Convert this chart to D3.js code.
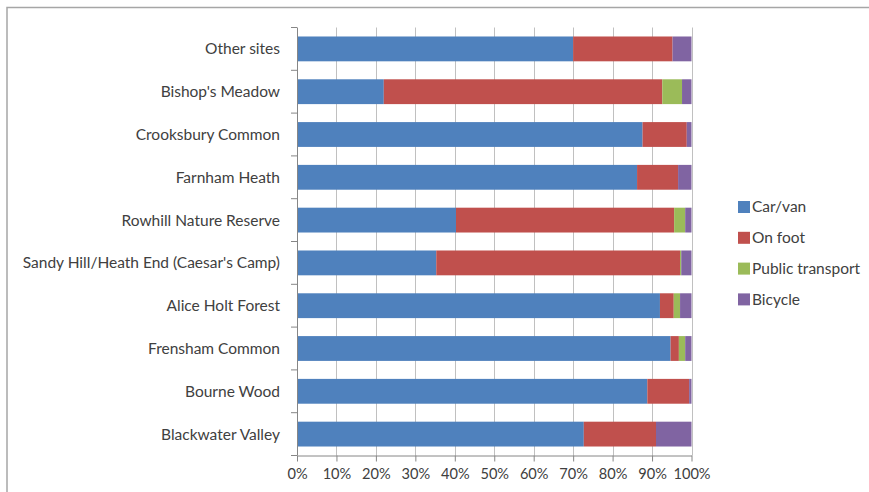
<!DOCTYPE html>
<html>
<head>
<meta charset="utf-8">
<script src="https://cdn.jsdelivr.net/npm/d3@7"></script>
<style>
  html, body { margin: 0; padding: 0; background: #fff; }
  svg { display: block; }
  text { font-family: Lato, "Open Sans", sans-serif; fill: #404040; }
</style>
</head>
<body>
<svg id="chart" width="869" height="492"></svg>
<script>
// Sites, listed top to bottom
const sites = [
  "Other sites",
  "Bishop's Meadow",
  "Crooksbury Common",
  "Farnham Heath",
  "Rowhill Nature Reserve",
  "Sandy Hill/Heath End (Caesar's Camp)",
  "Alice Holt Forest",
  "Frensham Common",
  "Bourne Wood",
  "Blackwater Valley"
];

const modes = ["Car/van", "On foot", "Public transport", "Bicycle"];

// Share of visitors by travel mode (%)
const carVan          = [70.0, 22.0, 87.6, 86.2, 40.3, 35.3, 92.0, 94.7, 88.8, 72.7];
const onFoot          = [25.2, 70.6, 11.2, 10.4, 55.3, 61.8,  3.5,  2.1, 10.6, 18.3];
const publicTransport = [ 0.0,  5.0,  0.0,  0.0,  2.8,  0.3,  1.6,  1.6,  0.0,  0.0];
const bicycle         = [ 4.8,  2.4,  1.2,  3.4,  1.6,  2.6,  2.9,  1.6,  0.6,  9.0];

const xTicks = [0, 10, 20, 30, 40, 50, 60, 70, 80, 90, 100];

const colors = ["#4f81bd", "#c0504d", "#9bbb59", "#8064a2"];

const rows = sites.map((s, i) => ({
  site: s,
  "Car/van": carVan[i],
  "On foot": onFoot[i],
  "Public transport": publicTransport[i],
  "Bicycle": bicycle[i]
}));

const svg = d3.select("#chart");

// outer frame of the chart area
svg.append("rect")
  .attr("x", 7).attr("y", 7.5)
  .attr("width", 900).attr("height", 600)
  .attr("fill", "none")
  .attr("stroke", "#a6a6a6")
  .attr("stroke-width", 1.5);

const plotL = 297, plotR = 691.5, plotT = 27.5, plotB = 455.5;

const x = d3.scaleLinear().domain([0, 100]).range([plotL, plotR]);
const y = d3.scaleBand().domain(sites).range([plotT, plotB]).paddingInner(0.42).paddingOuter(0.21);

// vertical gridlines
svg.append("g")
  .selectAll("line")
  .data(xTicks.slice(1))
  .join("line")
  .attr("x1", d => Math.round(x(d)) + 0.5)
  .attr("x2", d => Math.round(x(d)) + 0.5)
  .attr("y1", plotT)
  .attr("y2", plotB)
  .attr("stroke", "#c0c0c0")
  .attr("stroke-width", 1);

// stacked bars
const stack = d3.stack().keys(modes)(rows);
svg.append("g")
  .selectAll("g")
  .data(stack)
  .join("g")
  .attr("fill", (d, i) => colors[i])
  .selectAll("rect")
  .data(d => d)
  .join("rect")
  .attr("x", d => x(d[0]))
  .attr("width", d => Math.max(0, x(d[1]) - x(d[0])))
  .attr("y", d => y(d.data.site))
  .attr("height", y.bandwidth());

// bottom axis
const xAxis = svg.append("g")
  .attr("transform", `translate(0,${plotB})`)
  .call(d3.axisBottom(x).tickValues(xTicks).tickFormat(d => d + "%").tickSizeInner(6).tickSizeOuter(0).tickPadding(7));
xAxis.select(".domain").attr("stroke", "#868686");
xAxis.selectAll(".tick line").attr("stroke", "#868686");
xAxis.selectAll("text").attr("font-size", 14.6).attr("fill", "#404040").attr("font-family", "Lato, sans-serif");

// left axis with category boundaries as ticks
const yAxisG = svg.append("g");
yAxisG.append("line")
  .attr("x1", plotL + 0.5).attr("x2", plotL + 0.5)
  .attr("y1", plotT).attr("y2", plotB)
  .attr("stroke", "#868686");
const step = (plotB - plotT) / sites.length;
yAxisG.selectAll("line.tk")
  .data(d3.range(sites.length + 1))
  .join("line")
  .attr("class", "tk")
  .attr("x1", plotL - 6).attr("x2", plotL)
  .attr("y1", i => plotT + i * step)
  .attr("y2", i => plotT + i * step)
  .attr("stroke", "#868686");
yAxisG.selectAll("text")
  .data(sites)
  .join("text")
  .attr("x", plotL - 17)
  .attr("y", d => y(d) + y.bandwidth() / 2)
  .attr("dy", "0.35em")
  .attr("text-anchor", "end")
  .attr("font-size", 15.5)
  .text(d => d);

// legend
const legend = svg.append("g").attr("transform", "translate(738,207)");
const li = legend.selectAll("g")
  .data(modes)
  .join("g")
  .attr("transform", (d, i) => `translate(0,${i * 30.8})`);
li.append("rect")
  .attr("x", 0).attr("y", -6)
  .attr("width", 12).attr("height", 12)
  .attr("fill", (d, i) => colors[i]);
li.append("text")
  .attr("x", 14)
  .attr("dy", "0.35em")
  .attr("font-size", 15.5)
  .text(d => d);
</script>
</body>
</html>
